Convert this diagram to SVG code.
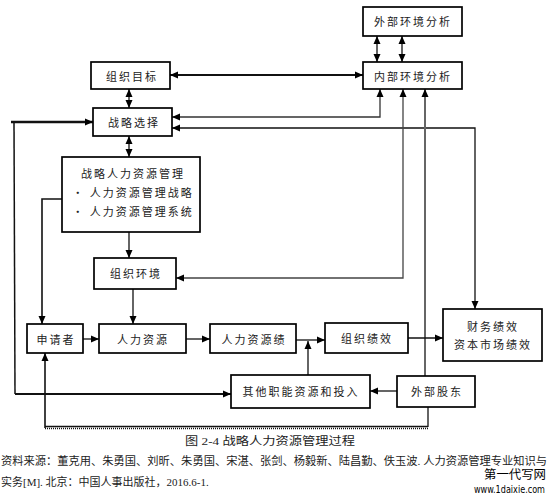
<svg xmlns="http://www.w3.org/2000/svg" width="552" height="501" viewBox="0 0 552 501">
<style>
.box{fill:#fff;stroke:#000;stroke-width:1.7}
.t{font-family:"Noto Sans CJK SC",sans-serif;font-size:11px;letter-spacing:2px;fill:#222;text-anchor:middle;dominant-baseline:central}
.c{fill:none;stroke:#111;stroke-width:1.3}
.a{marker-end:url(#ah)}
.b{marker-start:url(#ah);marker-end:url(#ah)}
.cap{font-family:"Liberation Serif","Noto Sans CJK SC",serif;font-size:11px;fill:#222}
</style>
<defs>
<marker id="ah" markerUnits="userSpaceOnUse" markerWidth="8" markerHeight="8" refX="8" refY="4" orient="auto-start-reverse">
<path d="M0,0.5 L8,4 L0,7.5 z" fill="#000"/>
</marker>
</defs>
<rect width="552" height="501" fill="#fff"/>
<g id="connectors">
<path class="c b" d="M377,36 L377,62"/>
<path class="c b" d="M402,36 L402,62"/>
<path class="c b" d="M170,75 L363,75" style="stroke-width:2.2"/>
<path class="c b" d="M129,89 L129,108"/>
<path class="c b" d="M129,136 L129,157"/>
<path class="c b" d="M172,117 L380,117 L380,89" style="stroke:#333"/>
<path class="c b" d="M172,128 L475,128 L475,309"/>
<path class="c b" d="M176,278 L403,278 L403,89" style="stroke:#444"/>
<path class="c a" d="M425,376 L425,89" style="stroke:#666;stroke-width:2"/>
<path class="c a" d="M129,232 L129,258"/>
<path class="c a" d="M62,199 L42,199 L42,324" style="stroke-width:1.6"/>
<path class="c a" d="M133,289 L133,324"/>
<path class="c a" d="M83,339 L99,339"/>
<path class="c a" d="M186,339 L210,339"/>
<path class="c a" d="M296,340 L325,340"/>
<path class="c a" d="M308,375 L308,341"/>
<path class="c a" d="M408,338 L443,338"/>
<path class="c a" d="M397,391 L370,391"/>
<path class="c a" d="M11,122 L93,122" style="stroke-width:2.6"/>
<path class="c" d="M14,122 L15,394" style="stroke-width:1.5"/>
<path class="c a" d="M15,394 L231,394" style="stroke-width:2"/>
<path class="c" d="M428,407 L428,427"/>
<path class="c" d="M428,426.5 L45,426.5"/>
<path class="c" d="M428,428.5 L45,428.5" style="stroke-dasharray:1 1;stroke-width:1.5"/>
<path class="c a" d="M45,428 L45,353" style="stroke-width:1.6"/>
</g>
<g id="n-waibu"><rect class="box" x="363" y="7" width="99" height="29"/><text class="t" x="413" y="21">外部环境分析</text></g>
<g id="n-neibu"><rect class="box" x="363" y="62" width="99" height="27"/><text class="t" x="413" y="76">内部环境分析</text></g>
<g id="n-mubiao"><rect class="box" x="91" y="62" width="79" height="27"/><text class="t" x="132" y="76">组织目标</text></g>
<g id="n-xuanze"><rect class="box" x="93" y="108" width="79" height="28"/><text class="t" x="134" y="122">战略选择</text></g>
<g id="n-shrm"><rect class="box" x="62" y="157" width="138" height="75"/>
<text class="t" x="133" y="173">战略人力资源管理</text>
<text class="t" x="133" y="192">• 人力资源管理战略</text>
<text class="t" x="133" y="211">• 人力资源管理系统</text></g>
<g id="n-huanjing"><rect class="box" x="94" y="258" width="82" height="31"/><text class="t" x="136" y="273">组织环境</text></g>
<g id="n-shenqing"><rect class="box" x="27" y="324" width="56" height="29"/><text class="t" x="56" y="339">申请者</text></g>
<g id="n-ziyuan"><rect class="box" x="99" y="324" width="87" height="29"/><text class="t" x="143" y="339">人力资源</text></g>
<g id="n-ji"><rect class="box" x="210" y="324" width="86" height="29"/><text class="t" x="254" y="339">人力资源绩</text></g>
<g id="n-zuzhijx"><rect class="box" x="325" y="323" width="83" height="30"/><text class="t" x="367" y="338">组织绩效</text></g>
<g id="n-caiwu"><rect class="box" x="443" y="309" width="99" height="52"/>
<text class="t" x="493" y="326">财务绩效</text>
<text class="t" x="493" y="344">资本市场绩效</text></g>
<g id="n-qita"><rect class="box" x="231" y="375" width="139" height="33"/><text class="t" x="301" y="391">其他职能资源和投入</text></g>
<g id="n-gudong"><rect class="box" x="397" y="376" width="78" height="31"/><text class="t" x="437" y="391">外部股东</text></g>
<g id="caption">
<text class="cap" x="185" y="445" textLength="170" lengthAdjust="spacingAndGlyphs">图 2-4  战略人力资源管理过程</text>
<text class="cap" x="1" y="465" textLength="546" lengthAdjust="spacingAndGlyphs">资料来源：董克用、朱勇国、刘昕、朱勇国、宋湛、张剑、杨毅新、陆昌勤、佚玉波. 人力资源管理专业知识与</text>
<text class="cap" x="1" y="486">实务[M]. 北京：中国人事出版社，2016.6-1.</text>
<text x="484" y="479" textLength="62" lengthAdjust="spacingAndGlyphs" style="font-family:'Noto Sans CJK SC',sans-serif;font-size:12px;fill:#000">第一代写网</text>
<text x="474" y="493" textLength="71" lengthAdjust="spacingAndGlyphs" style="font-family:'DejaVu Sans Condensed','DejaVu Sans',sans-serif;font-size:10px;fill:#000">www.1daixie.com</text>
</g>
</svg>
